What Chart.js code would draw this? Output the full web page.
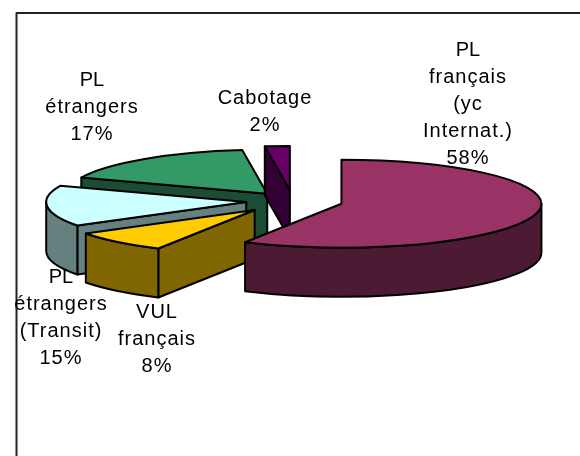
<!DOCTYPE html>
<html>
<head>
<meta charset="utf-8">
<style>html,body{margin:0;padding:0;background:#fff}canvas{display:block}</style>
<script src="https://cdn.jsdelivr.net/npm/chart.js@4"></script>
</head>
<body>
<canvas id="c" width="580" height="456"></canvas>
<script>
// Data
const categories = ["PL français (yc Internat.)", "VUL français", "PL étrangers (Transit)", "PL étrangers", "Cabotage"];
const shares = [58, 8, 15, 17, 2];
const labelLines = [
  ["PL", "français", "(yc", "Internat.)"],
  ["VUL", "français"],
  ["PL", "étrangers", "(Transit)"],
  ["PL", "étrangers"],
  ["Cabotage"]
];
const topColors = ["#993366", "#FFCC00", "#CCFFFF", "#339966", "#660066"];
const sideColors = ["#4D1A33", "#806600", "#668080", "#1A4D33", "#330033"];
const explosion = [50, 56, 47, 42, 50];

// Layout only
const labelCenters = [[468, 50], [157, 312], [61, 277], [92, 80], [265, 98]];
const paintOrder = [3, 4, 2, 1, 0];
const view = { centerY: 201, squash: 0.22, depth: 49 };
const LINE = 27;

const pie3d = {
  id: "pie3d",
  beforeDatasetDraw() { return false; },
  afterDatasetsDraw(chart) {
    const ctx = chart.ctx;
    const arcs = chart.getDatasetMeta(0).data;
    const k = view.squash, d = view.depth;

    ctx.save();
    ctx.lineJoin = "round";
    ctx.lineWidth = 2;
    ctx.strokeStyle = "#000";

    paintOrder.forEach(i => {
      const a = arcs[i];
      const mid = (a.startAngle + a.endAngle) / 2;
      const off = a.options.offset;
      const cx = a.x + Math.cos(mid) * off;
      const cy = view.centerY + Math.sin(mid) * off * k;
      const r = a.outerRadius;
      const px = t => cx + r * Math.cos(t);
      const py = t => cy + k * r * Math.sin(t);

      const poly = pts => {
        ctx.beginPath();
        pts.forEach((p, n) => n ? ctx.lineTo(p[0], p[1]) : ctx.moveTo(p[0], p[1]));
        ctx.closePath();
        ctx.fillStyle = sideColors[i];
        ctx.fill();
        ctx.stroke();
      };

      // radial wall faces turned toward the viewer
      if (Math.cos(a.startAngle) < -1e-6) {
        const t = a.startAngle;
        poly([[cx, cy], [px(t), py(t)], [px(t), py(t) + d], [cx, cy + d]]);
      }
      if (Math.cos(a.endAngle) > 1e-6) {
        const t = a.endAngle;
        poly([[cx, cy], [px(t), py(t)], [px(t), py(t) + d], [cx, cy + d]]);
      }

      // outer rim, front half only
      const norm = t => { while (t < -Math.PI / 2) t += 2 * Math.PI; return t; };
      const s = Math.max(norm(a.startAngle), 0);
      const e = Math.min(a.endAngle, Math.PI);
      if (e > s) {
        ctx.beginPath();
        ctx.ellipse(cx, cy, r, k * r, 0, s, e, false);
        ctx.lineTo(px(e), py(e) + d);
        ctx.ellipse(cx, cy + d, r, k * r, 0, e, s, true);
        ctx.closePath();
        ctx.fillStyle = sideColors[i];
        ctx.fill();
        ctx.stroke();
      }

      // top face
      ctx.beginPath();
      ctx.moveTo(cx, cy);
      ctx.ellipse(cx, cy, r, k * r, 0, a.startAngle, a.endAngle, false);
      ctx.closePath();
      ctx.fillStyle = a.options.backgroundColor;
      ctx.fill();
      ctx.stroke();
    });

    // frame
    ctx.lineWidth = 2;
    ctx.strokeStyle = "#222";
    ctx.beginPath();
    ctx.moveTo(16.5, 456);
    ctx.lineTo(16.5, 13);
    ctx.lineTo(580, 13);
    ctx.stroke();

    // labels
    ctx.fillStyle = "#000";
    ctx.font = '20px "Liberation Sans", Arial, sans-serif';
    ctx.textAlign = "center";
    ctx.textBaseline = "middle";
    categories.forEach((_, i) => {
      const lines = labelLines[i].concat([shares[i] + "%"]);
      const c = labelCenters[i];
      lines.forEach((t, n) => {
        ctx.letterSpacing = t === "PL" ? "0px" : "1px";
        ctx.fillText(t, c[0], c[1] + n * LINE);
      });
    });
    ctx.restore();
  }
};

new Chart(document.getElementById("c"), {
  type: "pie",
  data: {
    labels: categories,
    datasets: [{
      data: shares,
      backgroundColor: topColors,
      borderColor: "#000",
      borderWidth: 0,
      offset: explosion
    }]
  },
  options: {
    responsive: false,
    animation: false,
    layout: { padding: { left: 65, right: 59, top: 0, bottom: 0 } },
    plugins: { legend: { display: false }, tooltip: { enabled: false } }
  },
  plugins: [pie3d]
});
</script>
</body>
</html>
